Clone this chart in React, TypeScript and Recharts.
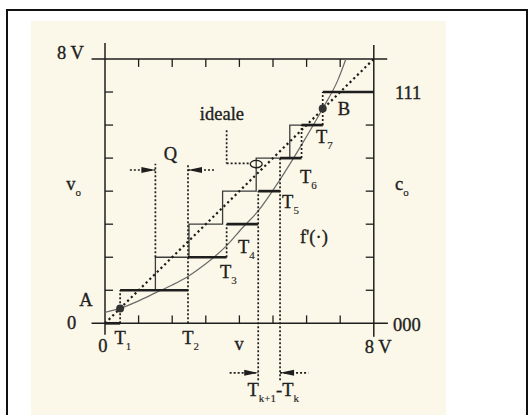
import React from 'react';
import { ComposedChart, Line, XAxis, YAxis, ReferenceLine, ReferenceDot } from 'recharts';

// full scale of the converter (volts) and the 3-bit output codes
const fullScale = 8;
const levels = [0, 1, 2, 3, 4, 5, 6, 7];
// transition voltages T1..T7 of the real quantizer
const thresholds = [0.45, 2.47, 3.62, 4.56, 5.21, 5.85, 6.48];
// transitions of the ideal quantizer (the thin staircase)
const idealSteps = [1.5, 2.5, 3.5, 4.5, 5.5, 6.5];
// non-linear characteristic f'(.)
const curveV = [0, 0.45, 1.0, 1.5, 2.0, 2.47, 3.0, 3.62, 4.1, 4.56, 5.21, 5.85, 6.48, 6.93, 7.17];
const curveF = [0.33, 0.45, 0.68, 0.92, 1.16, 1.42, 1.8, 2.35, 2.9, 3.4, 4.35, 5.4, 6.5, 7.36, 8.0];
const axisTicks = [1, 2, 3, 4, 5, 6, 7];
// height of the Q marker and of the T(k+1)-T(k) marker
const qLevel = 4.64;
const dtLevel = -1.5;

const INK = '#1e1e1e';
const THIN = '#3c3c3c';
const CURVE = '#6a6a6a';
const FONT = '"Liberation Serif", "Times New Roman", serif';

const curveData = curveV.map((v, i) => ({ x: v, y: curveF[i] }));
const idealData: { x: number; y: number }[] = [];
idealSteps.forEach((s, i) => {
  idealData.push({ x: s, y: levels[i + 1] });
  if (i < idealSteps.length - 1) idealData.push({ x: s, y: levels[i + 2] });
});
const diagonalData = [
  { x: 0, y: 0 },
  { x: fullScale, y: fullScale },
];

type Seg = [number, number, number, number];
const segs = (list: Seg[], key: string, stroke: string, width: number, dash?: string) =>
  list.map(([x1, y1, x2, y2], i) => (
    <ReferenceLine
      key={`${key}-${i}`}
      segment={[
        { x: x1, y: y1 },
        { x: x2, y: y2 },
      ]}
      stroke={stroke}
      strokeWidth={width}
      strokeDasharray={dash}
      ifOverflow="visible"
    />
  ));

// frame of the diagram
const frame: Seg[] = [
  [-0.4, 0, 8.42, 0],
  [-0.4, fullScale, 8.4, fullScale],
  [0, -0.35, 0, 8.48],
  [fullScale, -0.41, fullScale, 8.42],
];
const TL = 0.24;
const ticks: Seg[] = axisTicks.flatMap((t) => [
  [t, 0, t, TL] as Seg,
  [t, fullScale, t, fullScale - TL] as Seg,
  [0, t, TL, t] as Seg,
  [fullScale, t, fullScale - TL, t] as Seg,
]);

// thick treads of the real staircase
const treads: Seg[] = levels.map((l, i) => [
  i === 0 ? 0 : thresholds[i - 1],
  l,
  i < thresholds.length ? thresholds[i] : fullScale,
  l,
]);

// dotted risers, some extended to the Q and T(k+1)-T(k) markers
const risers: Seg[] = thresholds.map((t, i) => {
  let lo = levels[i];
  let hi = levels[i + 1];
  if (i === 1) {
    lo = 0;
    hi = qLevel + 0.19;
  }
  if (i === 3 || i === 4) lo = dtLevel - 0.22;
  return [t, lo, t, hi];
});
const markers: Seg[] = [
  [idealSteps[0], levels[2], idealSteps[0], qLevel + 0.19],
  [0.74, qLevel, idealSteps[0], qLevel],
  [thresholds[1], qLevel, 3.27, qLevel],
  [3.71, dtLevel, thresholds[3], dtLevel],
  [thresholds[4], dtLevel, 6.05, dtLevel],
  [3.62, 5.84, 3.62, 4.84],
  [3.62, 4.84, 4.33, 4.84],
];

const arrows = [
  { x: idealSteps[0], y: qLevel, dir: 1 },
  { x: thresholds[1], y: qLevel, dir: -1 },
  { x: thresholds[3], y: dtLevel, dir: 1 },
  { x: thresholds[4], y: dtLevel, dir: -1 },
];

type Part = [string, boolean];
const labels: { x: number; y: number; parts: Part[]; anchor?: string }[] = [
  { x: -1.03, y: 8.0, parts: [['8 V', false]], anchor: 'middle' },
  { x: -0.99, y: -0.16, parts: [['0', false]], anchor: 'middle' },
  { x: -0.06, y: -0.88, parts: [['0', false]], anchor: 'middle' },
  { x: 0.28, y: -0.62, parts: [['T', false], ['1', true]] },
  { x: 2.3, y: -0.62, parts: [['T', false], ['2', true]] },
  { x: 3.99, y: -0.8, parts: [['v', false]], anchor: 'middle' },
  { x: 8.13, y: -0.9, parts: [['8 V', false]], anchor: 'middle' },
  { x: 8.57, y: -0.23, parts: [['000', false]] },
  { x: 8.63, y: 6.8, parts: [['111', false]] },
  { x: 8.63, y: 4.03, parts: [['c', false], ['o', true]] },
  { x: -1.15, y: 4.03, parts: [['v', false], ['o', true]] },
  { x: -0.57, y: 0.52, parts: [['A', false]], anchor: 'middle' },
  { x: 6.93, y: 6.3, parts: [['B', false]] },
  { x: 3.42, y: 1.37, parts: [['T', false], ['3', true]] },
  { x: 3.96, y: 2.12, parts: [['T', false], ['4', true]] },
  { x: 5.27, y: 3.49, parts: [['T', false], ['5', true]] },
  { x: 5.8, y: 4.24, parts: [['T', false], ['6', true]] },
  { x: 6.28, y: 5.46, parts: [['T', false], ['7', true]] },
  { x: 5.8, y: 2.43, parts: [["f'(·)", false]] },
  { x: 1.95, y: 4.94, parts: [['Q', false]], anchor: 'middle' },
  { x: 3.48, y: 6.15, parts: [['ideale', false]], anchor: 'middle' },
  { x: 4.24, y: -2.2, parts: [['T', false], ['k+1', true], ['-T', false], ['k', true]] },
];

const TextMark = ({ cx, cy, parts, anchor }: any) => {
  let down = false;
  return (
    <text
      x={cx}
      y={cy}
      fontFamily={FONT}
      fontSize={18.5}
      fill={INK}
      stroke={INK}
      strokeWidth={0.35}
      textAnchor={anchor || 'start'}
    >
      {parts.map(([s, sub]: Part, i: number) => {
        const dy = sub && !down ? 6 : !sub && down ? -6 : 0;
        down = sub;
        return (
          <tspan key={i} dy={dy} fontSize={sub ? 11 : 18.5} strokeWidth={sub ? 0.15 : 0.35}>
            {s}
          </tspan>
        );
      })}
    </text>
  );
};

const Arrow = ({ cx, cy, dir }: any) => {
  const b = cx - dir * 14;
  return <polygon points={`${cx},${cy} ${b},${cy - 3} ${b},${cy + 3}`} fill={INK} />;
};

export default function App() {
  return (
    <div style={{ position: 'absolute', left: 0, top: 0, width: 530, height: 415, overflow: 'hidden', background: '#fff' }}>
      <div style={{ position: 'absolute', left: 6, top: 9, width: 522, height: 440, border: '2px solid #111', boxSizing: 'border-box' }} />
      <div style={{ position: 'absolute', left: 31, top: 21, width: 415, height: 400, background: '#fbf8e9' }} />
      <div style={{ position: 'absolute', left: 0, top: 0 }}>
        <ComposedChart width={530} height={415} margin={{ top: 0, right: 0, bottom: 0, left: 0 }}>
          <XAxis type="number" dataKey="x" domain={[-3.125, 12.649]} allowDataOverflow hide />
          <YAxis type="number" dataKey="y" domain={[-2.775, 9.785]} allowDataOverflow hide />
          {segs(frame, 'frame', INK, 1.5)}
          {segs(ticks, 'tick', INK, 1.3)}
          <Line data={idealData} dataKey="y" type="linear" stroke={THIN} strokeWidth={1.3} dot={false} activeDot={false} isAnimationActive={false} />
          <Line data={diagonalData} dataKey="y" type="linear" stroke={INK} strokeWidth={2.2} strokeDasharray="2.2 3" dot={false} activeDot={false} isAnimationActive={false} />
          <Line data={curveData} dataKey="y" type="monotone" stroke={CURVE} strokeWidth={1.2} dot={false} activeDot={false} isAnimationActive={false} />
          {segs(risers, 'riser', INK, 1.7, '2 2')}
          {segs(markers, 'marker', INK, 1.7, '2 2')}
          {segs(treads, 'tread', INK, 2.7)}
          {arrows.map((a, i) => (
            <ReferenceDot key={`arrow-${i}`} x={a.x} y={a.y} r={0} shape={(p: any) => <Arrow {...p} dir={a.dir} />} />
          ))}
          <ReferenceDot
            x={idealSteps[3]}
            y={4.82}
            r={0}
            shape={(p: any) => <ellipse cx={p.cx} cy={p.cy} rx={6} ry={3.7} fill="none" stroke={INK} strokeWidth={1.3} />}
          />
          <ReferenceDot x={thresholds[0]} y={0.45} r={4} fill="#333" stroke="none" />
          <ReferenceDot x={thresholds[6]} y={6.5} r={4} fill="#333" stroke="none" />
          {labels.map((l, i) => (
            <ReferenceDot
              key={`label-${i}`}
              x={l.x}
              y={l.y}
              r={0}
              ifOverflow="visible"
              shape={(p: any) => <TextMark cx={p.cx} cy={p.cy} parts={l.parts} anchor={l.anchor} />}
            />
          ))}
        </ComposedChart>
      </div>
    </div>
  );
}
